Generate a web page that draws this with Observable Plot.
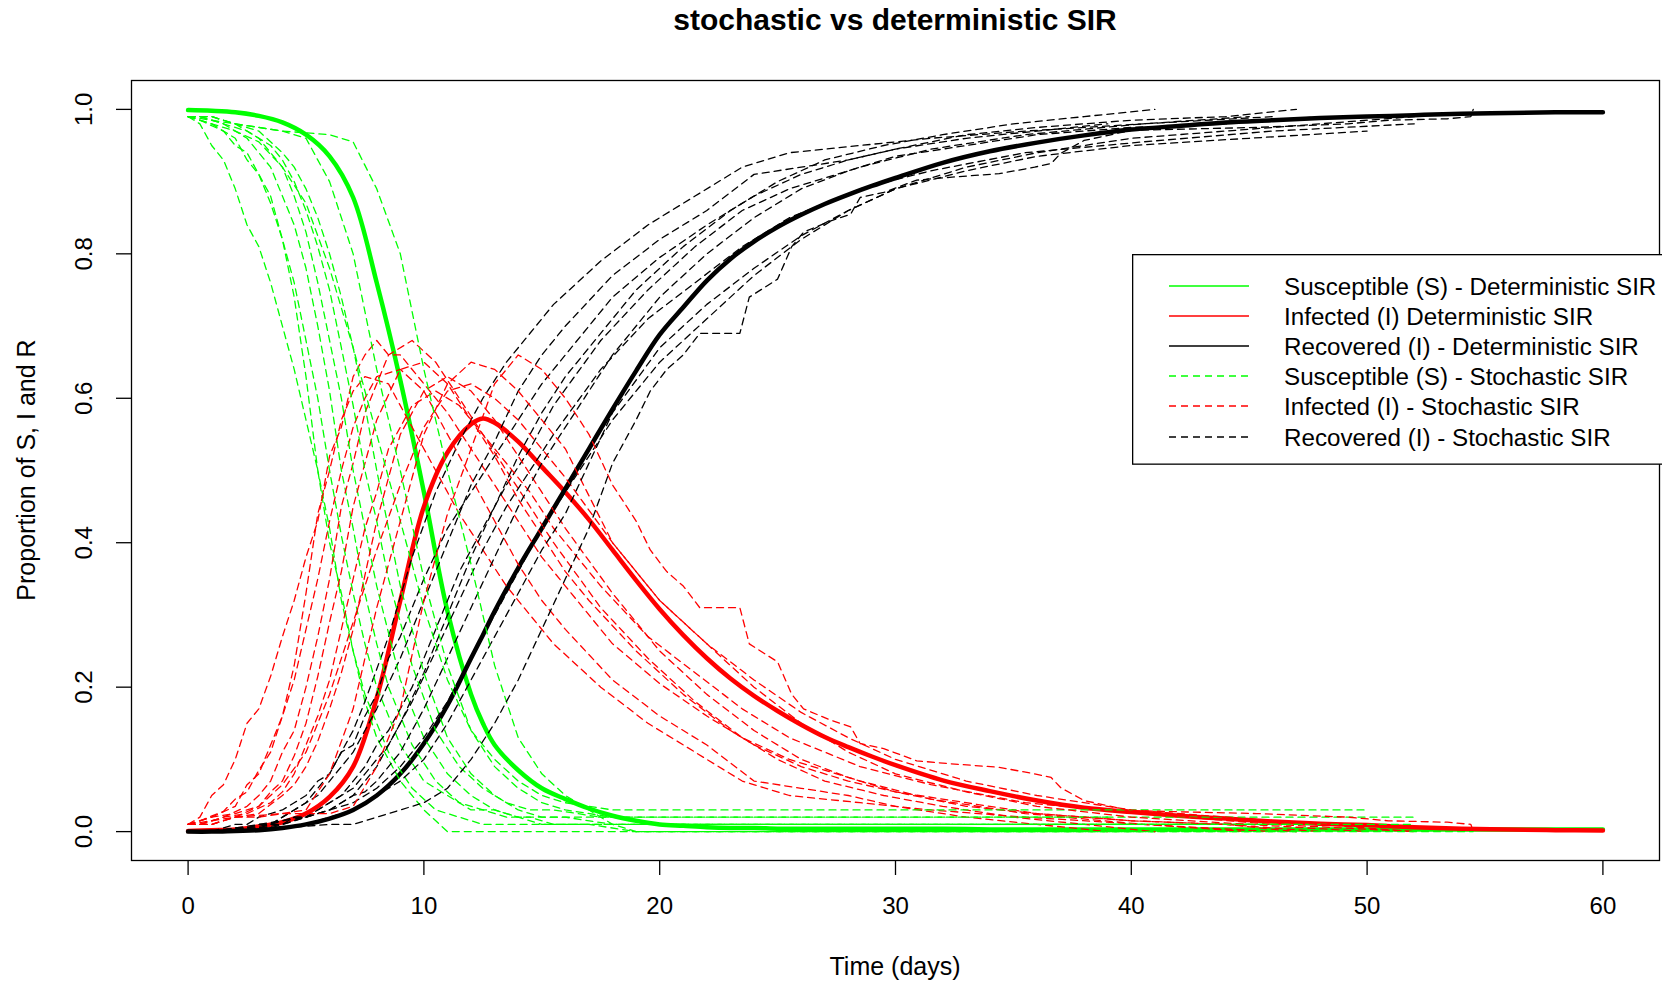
<!DOCTYPE html>
<html><head><meta charset="utf-8">
<script src="https://cdn.jsdelivr.net/npm/d3@7"></script>
<script src="https://cdn.jsdelivr.net/npm/@observablehq/plot@0.6"></script>
<style>
body{margin:0;background:#fff}
#wrap{position:relative;width:1662px;height:983px;overflow:hidden;font-family:"Liberation Sans",Arial,sans-serif;color:#000}
.title{position:absolute;left:131px;width:1528px;top:4px;text-align:center;font-weight:bold;font-size:30px;line-height:32px}
.xlab{position:absolute;left:131px;width:1528px;top:952px;text-align:center;font-size:25px;line-height:28px}
.ylab{position:absolute;left:-274px;top:456px;width:600px;text-align:center;font-size:25px;line-height:28px;transform:rotate(-90deg)}
#legend{position:absolute;left:1132px;top:254px}
#plot{position:absolute;left:0;top:0}
</style></head>
<body><div id="wrap">
<div id="plot"></div>
<div class="title">stochastic vs deterministic SIR</div>
<div class="xlab">Time (days)</div>
<div class="ylab">Proportion of S, I and R</div>
<div id="legend"></div>
</div>
<script>
const xTicks = [0,10,20,30,40,50,60];
const yTicks = [0,0.2,0.4,0.6,0.8,1.0];

const detT = [0,1,2,3,4,5,6,7,8,9,10,11,12,12.5,13,14,15,16,17,18,19,20,21,22,23,24,25,26,27,28,29,30,32,34,36,38,40,42,44,46,48,50,52,54,56,58,60];
const detS = [0.999,0.998,0.996,0.991,0.982,0.965,0.935,0.878,0.760,0.625,0.470,0.305,0.190,0.150,0.120,0.085,0.060,0.045,0.032,0.022,0.015,0.010,0.008,0.006,0.005,0.005,0.004,0.004,0.004,0.004,0.004,0.004,0.004,0.003,0.003,0.003,0.003,0.003,0.003,0.003,0.003,0.003,0.003,0.003,0.003,0.003,0.003];
const detI = [0.001,0.002,0.003,0.007,0.013,0.025,0.048,0.090,0.185,0.320,0.450,0.525,0.564,0.572,0.566,0.540,0.505,0.470,0.432,0.390,0.348,0.308,0.272,0.240,0.212,0.188,0.167,0.148,0.131,0.117,0.104,0.092,0.071,0.056,0.043,0.033,0.027,0.022,0.018,0.014,0.011,0.009,0.006,0.004,0.003,0.002,0.0015];
const detR = [0,0,0.001,0.002,0.005,0.010,0.018,0.030,0.050,0.080,0.122,0.175,0.240,0.272,0.305,0.365,0.420,0.475,0.530,0.585,0.638,0.688,0.726,0.763,0.793,0.817,0.837,0.854,0.869,0.882,0.894,0.905,0.926,0.942,0.954,0.964,0.972,0.977,0.982,0.985,0.988,0.990,0.992,0.994,0.995,0.996,0.996];

// stochastic runs: rows of [t, S, I, R]
const run1 = [[0,.99,.01,0],[0.5,.98,.02,0],[1,.95,.05,0],[1.5,.93,.065,.005],[2,.89,.10,.01],[2.5,.84,.15,.01],[3,.81,.17,.02],[3.5,.76,.215,.025],[4,.70,.27,.03],[4.5,.64,.32,.04],[5,.57,.38,.05],[5.5,.50,.43,.07],[6,.40,.52,.08],[6.5,.33,.56,.11],[7,.25,.63,.12],[7.5,.18,.66,.16],[8,.13,.68,.19],[8.5,.10,.66,.24],[9,.07,.66,.27],[10,.03,.62,.35],[11,0,.58,.42],[12,0,.53,.47],[13,0,.48,.52],[14,0,.43,.57],[15,0,.38,.62],[16,0,.34,.66],[17,0,.30,.70],[18,0,.26,.74],[20,0,.205,.795],[22,0,.16,.84],[24,0,.12,.88],[26,0,.09,.91],[28,0,.07,.93],[30,0,.055,.945],[33,0,.035,.965],[36,0,.025,.975],[40,0,.015,.985],[44,0,.01,.99],[47,0,0,1]];
const run2 = [[0,.99,.01,0],[0.5,.985,.015,0],[1.5,.97,.028,.002],[2,.95,.045,.005],[2.5,.94,.055,.005],[3,.91,.085,.005],[3.5,.88,.11,.01],[4,.82,.16,.02],[4.5,.74,.23,.03],[5,.63,.33,.04],[5.5,.50,.44,.06],[6,.42,.50,.08],[6.5,.32,.57,.11],[7,.25,.61,.14],[7.5,.19,.63,.18],[8.5,.11,.62,.27],[9.5,.06,.56,.38],[10.5,.03,.50,.47],[11.5,.02,.44,.54],[12.5,.01,.39,.60],[13.5,.01,.34,.65],[14.5,.01,.30,.69],[15.5,.01,.26,.73],[17.5,.01,.20,.79],[19.5,.01,.15,.84],[21.5,.01,.11,.88],[23.5,.01,.07,.92],[25.5,.01,.05,.94],[28.5,.01,.04,.95],[31.5,.01,.03,.96],[35.5,.01,.02,.97],[40.5,.01,.01,.98],[45,.01,0,.99]];
const run3 = [[0,.99,.01,0],[1,.98,.02,0],[2,.96,.035,.005],[2.5,.93,.065,.005],[3,.91,.08,.01],[3.5,.87,.12,.01],[4,.82,.16,.02],[4.5,.76,.21,.03],[5,.68,.28,.04],[5.5,.60,.35,.05],[6,.50,.43,.07],[6.5,.41,.50,.09],[7,.33,.56,.11],[7.5,.26,.60,.14],[8,.20,.63,.17],[9,.12,.64,.24],[10,.07,.61,.32],[11,.05,.55,.40],[12,.03,.49,.48],[13,.03,.43,.54],[14,.02,.37,.61],[15,.02,.32,.66],[16,.02,.28,.70],[18,.02,.21,.77],[20,.02,.16,.82],[22,.02,.12,.86],[24,.02,.07,.91],[26,.02,.06,.92],[28,.02,.05,.93],[30,.02,.035,.945],[33,.02,.02,.96],[36,.02,.01,.97],[39,.02,0,.98]];
const run4 = [[0,.99,.01,0],[0.5,.99,.01,0],[1.5,.98,.02,0],[2.5,.96,.035,.005],[3,.94,.05,.01],[3.5,.92,.07,.01],[4,.88,.11,.01],[4.5,.84,.14,.02],[5,.78,.20,.02],[5.5,.70,.27,.03],[6,.61,.35,.04],[6.5,.50,.45,.05],[7,.42,.51,.07],[7.5,.33,.58,.09],[8,.26,.62,.12],[8.5,.20,.66,.14],[9.5,.12,.68,.20],[10.5,.07,.65,.28],[11.5,.04,.60,.36],[12.5,.03,.55,.42],[13.5,.02,.50,.48],[14.5,.02,.45,.53],[15.5,.01,.40,.59],[17.5,.01,.31,.68],[19.5,.01,.24,.75],[21.5,.01,.18,.81],[23.5,.01,.13,.86],[25.5,.01,.10,.89],[28.5,.01,.07,.92],[31.5,.01,.045,.945],[35.5,.01,.025,.965],[40.5,.01,.01,.98],[46,.01,0,.99]];
const run5 = [[0,.99,.01,0],[1,.99,.01,0],[2,.98,.02,0],[3,.96,.035,.005],[3.5,.94,.055,.005],[4,.92,.07,.01],[4.5,.88,.105,.015],[5,.83,.15,.02],[5.5,.76,.215,.025],[6,.68,.29,.03],[6.5,.60,.36,.04],[7,.50,.45,.05],[7.5,.42,.51,.07],[8,.34,.57,.09],[9,.21,.64,.15],[10,.13,.65,.22],[11,.08,.62,.30],[12,.05,.57,.38],[13,.03,.52,.45],[14,.02,.46,.52],[15,.01,.41,.58],[16,.01,.36,.63],[17,.01,.32,.67],[19,0,.25,.75],[21,0,.19,.81],[23,0,.14,.86],[25,0,.10,.90],[27,0,.07,.93],[29.5,0,.05,.95],[32,0,.035,.965],[35,0,.02,.98],[38,0,.01,.99],[41,0,0,1]];
const run6 = [[0,.99,.01,0],[0.5,.99,.01,0],[1.5,.98,.02,0],[2.5,.97,.025,.005],[3.5,.95,.04,.01],[4,.93,.055,.015],[4.5,.90,.08,.02],[5,.86,.12,.02],[5.5,.81,.16,.03],[6,.75,.21,.04],[6.5,.67,.28,.05],[7,.59,.35,.06],[7.5,.50,.42,.08],[8,.43,.47,.10],[8.5,.35,.53,.12],[9.5,.23,.59,.18],[10.5,.14,.61,.25],[11.5,.09,.59,.32],[12.5,.06,.55,.39],[13.5,.04,.51,.45],[14.5,.03,.47,.50],[15.5,.03,.42,.55],[17.5,.02,.34,.64],[19.5,.02,.27,.71],[21.5,.02,.22,.76],[23.5,.02,.17,.81],[25.5,.02,.13,.85],[28.5,.02,.09,.89],[31.5,.02,.065,.915],[35.5,.02,.04,.94],[40.5,.02,.025,.955],[46,.02,.01,.97],[52,.02,0,.98]];
const run7 = [[0,.99,.01,0],[1,.99,.01,0],[2,.98,.02,0],[3,.97,.025,.005],[4,.94,.05,.01],[4.5,.92,.065,.015],[5,.89,.09,.02],[5.5,.85,.125,.025],[6,.80,.17,.03],[6.5,.74,.22,.04],[7,.67,.28,.05],[7.5,.59,.355,.055],[8,.50,.43,.07],[8.5,.42,.49,.09],[9,.34,.55,.11],[10,.22,.61,.17],[11,.13,.63,.24],[12,.08,.61,.31],[13,.05,.57,.38],[14,.03,.52,.45],[15,.02,.47,.51],[16,.02,.42,.56],[18,.01,.33,.66],[20,.01,.25,.74],[22,.01,.19,.80],[24,.01,.14,.85],[26,.01,.10,.89],[28,.01,.075,.915],[30,.01,.055,.935],[33,.01,.04,.95],[36,.01,.025,.965],[40,.01,.015,.975],[44,.01,.01,.98],[48,.01,0,.99]];
const run8 = [[0,.99,.01,0],[1,.98,.02,0],[2,.97,.025,.005],[3,.955,.035,.01],[4,.92,.065,.015],[5,.87,.11,.02],[6,.78,.19,.03],[7,.67,.29,.04],[8,.55,.39,.06],[9,.43,.48,.09],[10,.31,.56,.13],[11,.21,.61,.18],[12,.14,.62,.24],[13,.10,.60,.30],[14,.07,.57,.36],[15,.05,.53,.42],[16,.04,.49,.47],[18,.03,.40,.57],[20,.03,.32,.65],[22,.03,.26,.71],[24,.03,.20,.77],[26,.03,.15,.82],[28,.03,.11,.86],[30,.03,.08,.89],[33,.03,.055,.915],[36,.03,.035,.935],[40,.03,.02,.95],[45,.03,.01,.96],[50,.03,0,.97]];
const run9 = [[0,.99,.01,0],[1,.99,.01,0],[2,.98,.02,0],[3,.975,.02,.005],[4,.97,.025,.005],[5,.96,.03,.01],[6,.90,.08,.02],[7,.80,.17,.03],[8,.64,.31,.05],[9,.50,.43,.07],[10,.35,.55,.10],[11,.23,.62,.15],[12,.14,.65,.21],[13,.09,.64,.27],[14,.06,.61,.33],[15,.04,.57,.39],[16,.03,.53,.44],[18,.02,.40,.58],[20,.01,.32,.67],[22,.01,.26,.73],[24,.01,.21,.78],[26,.01,.165,.825],[28,.01,.13,.86],[30,.01,.10,.89],[33,.01,.07,.92],[36,.01,.05,.94],[40,.01,.03,.96],[44,.01,.02,.97],[48,.01,.01,.98],[52,.01,0,.99]];
const run10 = [[0,.99,.01,0],[2,.98,.02,0],[4,.97,.025,.005],[6,.965,.025,.01],[7,.955,.035,.01],[8,.89,.09,.02],[9,.80,.17,.03],[10,.64,.32,.04],[11,.50,.44,.06],[12,.37,.53,.10],[13,.23,.62,.15],[14,.13,.66,.21],[15,.08,.64,.28],[16,.05,.60,.35],[17,.03,.55,.42],[18,.01,.48,.51],[19,0,.43,.57],[19.6,0,.39,.61],[20.3,0,.36,.64],[21,0,.34,.66],[21.7,0,.31,.69],[23.4,0,.31,.69],[23.8,0,.26,.74],[25,0,.235,.765],[25.6,0,.19,.81],[26.1,0,.17,.83],[27.2,0,.155,.845],[28.1,0,.145,.855],[28.5,0,.122,.878],[29.5,0,.115,.885],[30.9,0,.098,.902],[32.3,0,.094,.906],[34.4,0,.089,.911],[35.9,0,.08,.92],[36.6,0,.075,.925],[37,0,.061,.939],[38,0,.043,.957],[40,0,.029,.971],[45.3,0,.025,.975],[49.2,0,.02,.98],[50.9,0,.015,.985],[53.4,0,.013,.987],[54.4,0,.01,.99],[54.5,0,0,1]];

const seriesColors = ["#00ff00","#ff0000","#000000"];
const legendLabels = ["Susceptible (S) - Deterministic SIR","Infected (I) Deterministic SIR","Recovered (I) - Deterministic SIR","Susceptible (S) - Stochastic SIR","Infected (I) - Stochastic SIR","Recovered (I) - Stochastic SIR"];

const det = detT.map((t,i)=>({t, S:detS[i], I:detI[i], R:detR[i]}));
const runs = [run1,run2,run3,run4,run5,run6,run7,run8,run9,run10];

const marks = [];
["S","I","R"].forEach((k,ci)=>{
  marks.push(Plot.line(det,{x:"t",y:k,stroke:seriesColors[ci],strokeWidth:4.5,curve:"catmull-rom"}));
});
runs.forEach(rows=>{
  [1,2,3].forEach((col,ci)=>{
    marks.push(Plot.line(rows,{x:d=>d[0],y:d=>d[col],stroke:seriesColors[ci],strokeWidth:1.3,strokeDasharray:"7,5"}));
  });
});

const chart = Plot.plot({
  width:1662, height:983,
  marginTop:80, marginBottom:123, marginLeft:131, marginRight:3,
  x:{domain:[-2.4,62.4]},
  y:{domain:[-0.04,1.04]},
  style:{fontFamily:"'Liberation Sans', Arial, sans-serif",fontSize:"24px",background:"white",color:"black"},
  marks:[
    ...marks,
    Plot.frame({stroke:"black",strokeWidth:1.3}),
    Plot.axisX({ticks:xTicks,tickSize:15,tickPadding:21,tickFormat:d=>String(d),label:null,strokeWidth:1.3,fontSize:24}),
    Plot.axisY({ticks:yTicks,tickSize:15,tickPadding:25,tickRotate:-90,tickFormat:d=>d.toFixed(1),label:null,strokeWidth:1.3,fontSize:24})
  ]
});
document.getElementById("plot").appendChild(chart);

// legend
const rowY = [32,62,92,122,152,183];
const lg = d3.create("svg").attr("width",530).attr("height",212).style("font-family","'Liberation Sans', Arial, sans-serif");
lg.append("rect").attr("x",0.65).attr("y",0.65).attr("width",600).attr("height",209.5).attr("fill","white").attr("stroke","black").attr("stroke-width",1.3);
legendLabels.forEach((lab,i)=>{
  lg.append("line").attr("x1",37).attr("x2",117).attr("y1",rowY[i]).attr("y2",rowY[i])
    .attr("stroke",seriesColors[i%3]).attr("stroke-width",1.3).attr("stroke-dasharray",i>=3?"7,5":null);
  lg.append("text").attr("x",152).attr("y",rowY[i]+8.5).attr("font-size",24.2).attr("fill","black").text(lab);
});
document.getElementById("legend").appendChild(lg.node());
</script>
</body></html>
